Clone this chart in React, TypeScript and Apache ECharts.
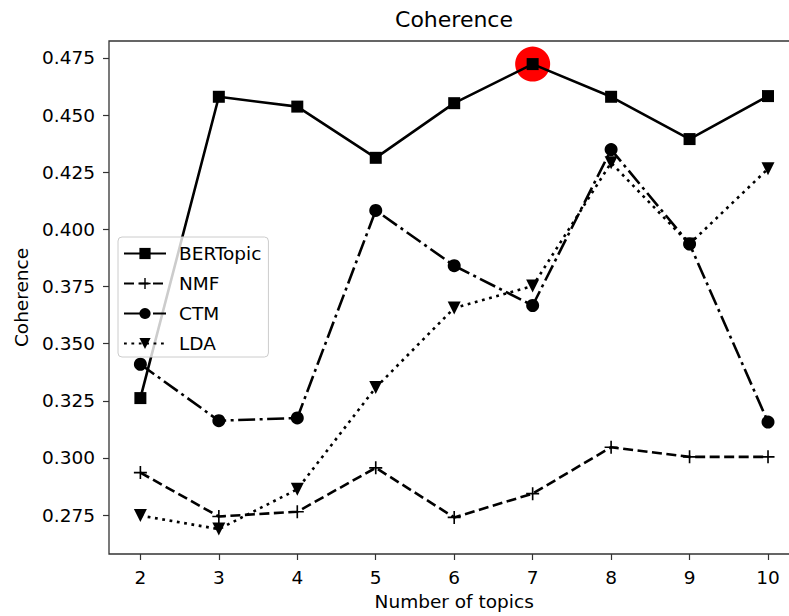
import React, { useEffect, useRef } from "react";
import * as echarts from "echarts";

const topics = [2, 3, 4, 5, 6, 7, 8, 9, 10];
const bertopic = [0.3262, 0.458, 0.4537, 0.4313, 0.4552, 0.4723, 0.458, 0.4395, 0.4583];
const nmf = [0.2936, 0.2744, 0.2765, 0.2957, 0.274, 0.2844, 0.3047, 0.3005, 0.3005];
const ctm = [0.341, 0.3163, 0.3175, 0.4083, 0.3841, 0.3667, 0.4349, 0.3936, 0.3157];
const lda = [0.2748, 0.2689, 0.2863, 0.3308, 0.3656, 0.3752, 0.4291, 0.3936, 0.4265];
const yTicks = [0.275, 0.3, 0.325, 0.35, 0.375, 0.4, 0.425, 0.45, 0.475];
const seriesNames = ["BERTopic", "NMF", "CTM", "LDA"];

const FONT = "DejaVu Sans";
const PLUS = "path://M7,0 H9 V7 H16 V9 H9 V16 H7 V9 H0 V7 H7 Z";

export default function App() {
  const ref = useRef<HTMLDivElement>(null);
  useEffect(() => {
    if (!ref.current) return;
    const chart = echarts.init(ref.current, undefined, { renderer: "svg" });
    const pairs = (vals: number[]) => topics.map((t, i) => [t, vals[i]]);
    let best = 0;
    bertopic.forEach((v, i) => {
      if (v > bertopic[best]) best = i;
    });
    const lw = 2.6;
    chart.setOption({
      animation: false,
      graphic: [
        {
          type: "text",
          x: 454,
          y: 19,
          style: {
            text: "Coherence",
            font: `22px "${FONT}"`,
            fill: "#000",
            textAlign: "center",
            textVerticalAlign: "middle",
          },
        },
      ],
      grid: {
        left: 109,
        top: 41,
        right: 0.6,
        bottom: 59,
        show: true,
        borderColor: "#333",
        borderWidth: 1.3,
        backgroundColor: "transparent",
      },
      legend: {
        orient: "vertical",
        left: 118,
        top: 237,
        data: seriesNames,
        padding: [7, 7, 4, 5],
        itemWidth: 42,
        itemHeight: 14,
        itemGap: 11,
        backgroundColor: "rgba(255,255,255,0.8)",
        borderColor: "#cccccc",
        borderWidth: 1,
        borderRadius: 4,
        textStyle: {
          fontFamily: FONT,
          fontSize: 18.5,
          color: "#000",
          lineHeight: 18,
          padding: [0, 0, 0, 8],
        },
      },
      xAxis: {
        type: "value",
        min: 1.6,
        max: 10.4,
        name: "Number of topics",
        nameLocation: "middle",
        nameGap: 38,
        nameTextStyle: { fontFamily: FONT, fontSize: 18.5, color: "#000" },
        axisLine: { show: false },
        axisTick: { show: true, length: 6, customValues: topics, lineStyle: { color: "#333", width: 1.2 } },
        axisLabel: {
          customValues: topics,
          margin: 14,
          fontFamily: FONT,
          fontSize: 18.5,
          color: "#000",
          formatter: (v: number) => String(v),
        },
        splitLine: { show: false },
      },
      yAxis: {
        type: "value",
        min: 0.258,
        max: 0.4824,
        name: "Coherence",
        nameLocation: "middle",
        nameRotate: 90,
        nameGap: 76,
        nameTextStyle: { fontFamily: FONT, fontSize: 18.5, color: "#000" },
        axisLine: { show: false },
        axisTick: { show: true, length: 6, customValues: yTicks, lineStyle: { color: "#333", width: 1.2 } },
        axisLabel: {
          customValues: yTicks,
          margin: 14,
          fontFamily: FONT,
          fontSize: 18.5,
          color: "#000",
          formatter: (v: number) => v.toFixed(3),
        },
        splitLine: { show: false },
      },
      series: [
        {
          type: "scatter",
          name: "best",
          z: 1,
          symbol: "circle",
          symbolSize: 35,
          itemStyle: { color: "#ff0000", opacity: 1 },
          data: [[topics[best], bertopic[best]]],
        },
        {
          type: "line",
          name: "BERTopic",
          z: 3,
          data: pairs(bertopic),
          symbol: "rect",
          symbolSize: 12,
          showAllSymbol: true,
          lineStyle: { color: "#000", width: lw, type: "solid" },
          itemStyle: { color: "#000" },
        },
        {
          type: "line",
          name: "NMF",
          z: 3,
          data: pairs(nmf),
          symbol: PLUS,
          symbolSize: 13,
          showAllSymbol: true,
          lineStyle: { color: "#000", width: lw, type: [10, 4.5] },
          itemStyle: { color: "#000" },
        },
        {
          type: "line",
          name: "CTM",
          z: 3,
          data: pairs(ctm),
          symbol: "circle",
          symbolSize: 13,
          showAllSymbol: true,
          lineStyle: { color: "#000", width: lw, type: [17, 4.5, 3, 4.5] },
          itemStyle: { color: "#000" },
        },
        {
          type: "line",
          name: "LDA",
          z: 3,
          data: pairs(lda),
          symbol: "triangle",
          symbolRotate: 180,
          symbolSize: 13,
          showAllSymbol: true,
          lineStyle: { color: "#000", width: lw, type: [2.8, 4.6] },
          itemStyle: { color: "#000" },
        },
      ],
    });
    return () => chart.dispose();
  }, []);
  return (
    <div style={{ position: "fixed", left: 0, top: 0, width: 789, height: 616, overflow: "hidden", background: "#fff" }}>
      <div ref={ref} style={{ width: 800, height: 616 }} />
    </div>
  );
}
